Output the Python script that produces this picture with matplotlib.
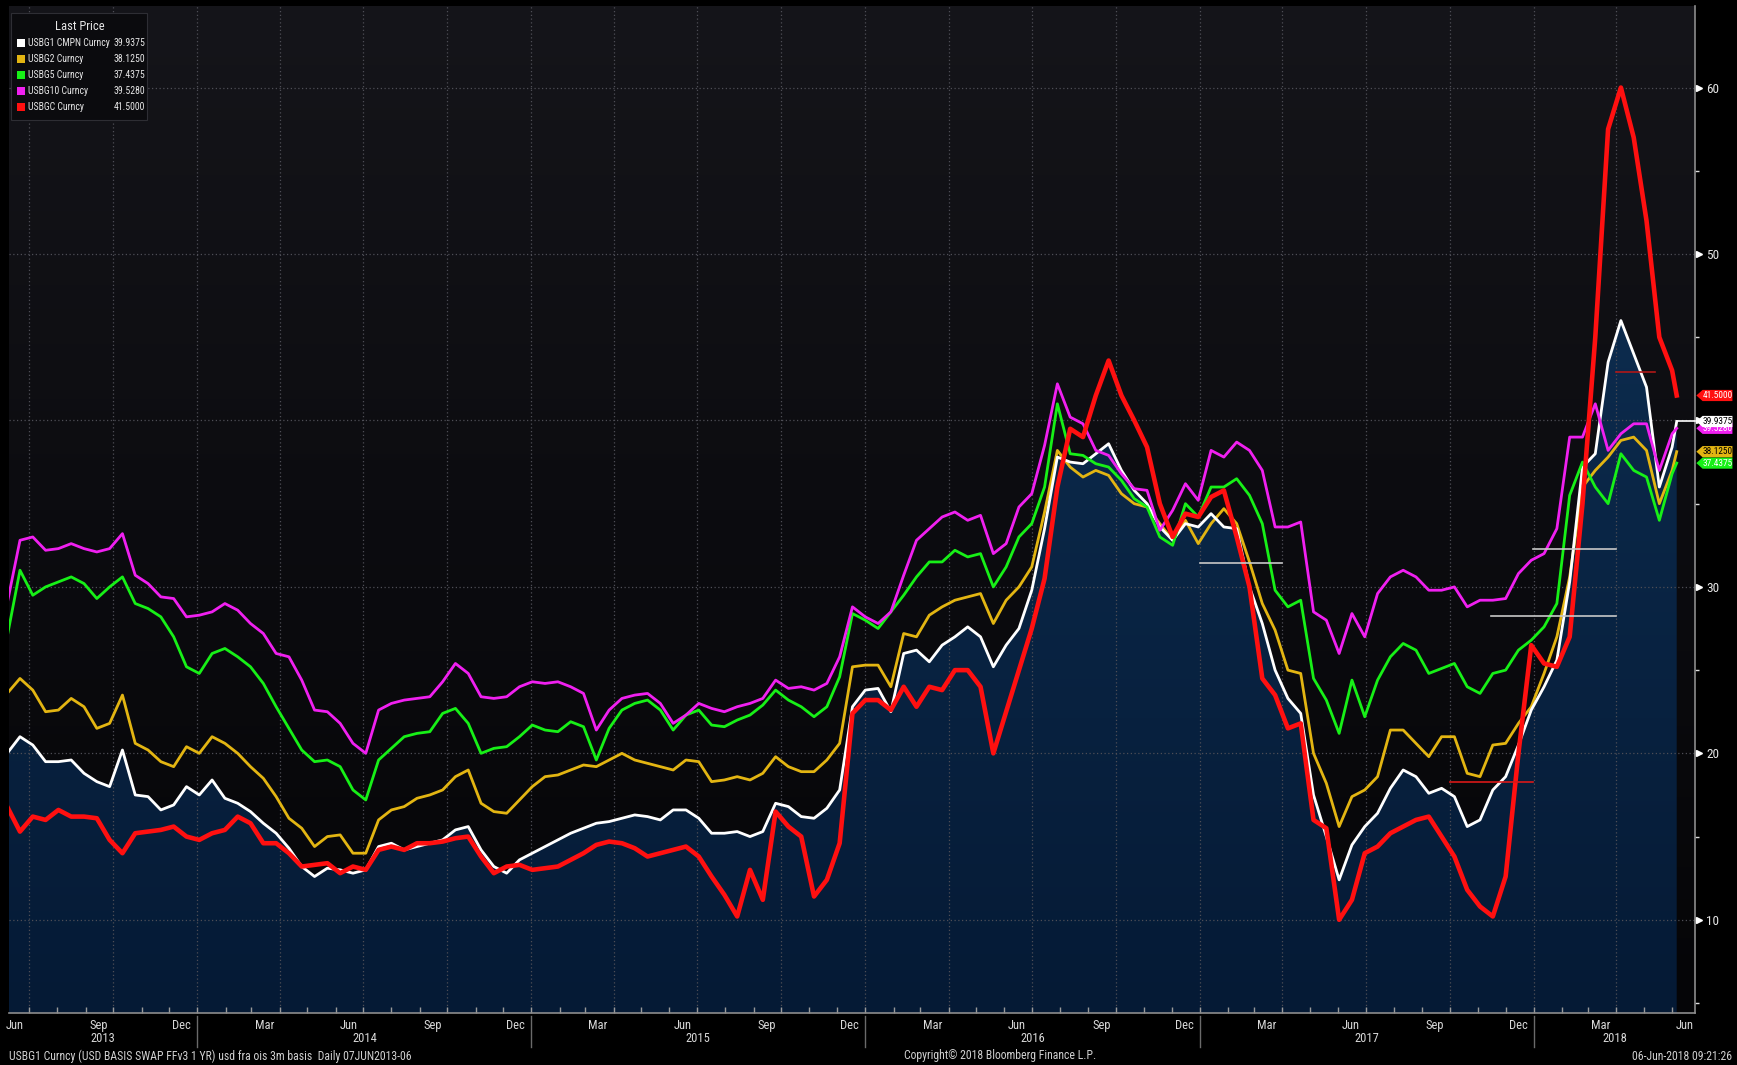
import numpy as np
import pandas as pd
import matplotlib
matplotlib.use("Agg")
import matplotlib.pyplot as plt
import matplotlib.dates as mdates
import matplotlib.transforms as mtransforms
import matplotlib.font_manager as fm
from matplotlib.colors import LinearSegmentedColormap
from matplotlib.patches import Polygon, Rectangle

# ---------- pick a narrow font if one is installed ----------
_entries = fm.fontManager.ttflist
_fams = {e.name for e in _entries}
FONT_FAMILY, FONT_STRETCH = "DejaVu Sans", "normal"
for cand in ["Liberation Sans Narrow", "Arial Narrow", "Roboto Condensed",
             "Noto Sans Condensed", "Open Sans Condensed", "DejaVu Sans Condensed"]:
    if cand in _fams:
        FONT_FAMILY = cand
        break
else:
    for fam in ["Roboto", "Noto Sans", "Open Sans", "DejaVu Sans", "Liberation Sans"]:
        if any(e.name == fam and str(e.stretch) in ("condensed", "semi-condensed", "extra-condensed")
               for e in _entries):
            FONT_FAMILY, FONT_STRETCH = fam, "condensed"
            break
plt.rcParams["font.family"] = [FONT_FAMILY, "DejaVu Sans"]
plt.rcParams["font.stretch"] = FONT_STRETCH

# ---------------- data (biweekly readings) ----------------
dates = list(pd.date_range("2013-06-07", periods=131, freq="14D")) + [pd.Timestamp("2018-06-06")]

usbg1 = [
    20.0, 21.0, 20.5, 19.5, 19.5, 19.6, 18.8, 18.3, 18.0, 20.2,
    17.5, 17.4, 16.6, 16.9, 18.0, 17.5, 18.4, 17.3, 17.0, 16.5,
    15.8, 15.2, 14.3, 13.2, 12.6, 13.1, 13.0, 12.8, 13.0, 14.4,
    14.6, 14.2, 14.4, 14.6, 14.8, 15.4, 15.6, 14.2, 13.2, 12.8,
    13.6, 14.0, 14.4, 14.8, 15.2, 15.5, 15.8, 15.9, 16.1, 16.3,
    16.2, 16.0, 16.6, 16.6, 16.1, 15.2, 15.2, 15.3, 15.0, 15.3,
    17.0, 16.8, 16.2, 16.1, 16.7, 17.8, 22.8, 23.8, 23.9, 22.5,
    26.0, 26.2, 25.5, 26.5, 27.0, 27.6, 27.0, 25.2, 26.5, 27.5,
    29.8, 33.5, 37.8, 37.5, 37.4, 38.0, 38.6, 37.0, 35.8, 35.0,
    33.6, 32.8, 33.8, 33.6, 34.4, 33.6, 33.5, 30.0, 27.8, 25.0,
    23.3, 22.4, 17.5, 15.0, 12.4, 14.5, 15.6, 16.4, 17.9, 19.0,
    18.6, 17.6, 17.9, 17.4, 15.6, 16.0, 17.8, 18.6, 20.5, 22.6,
    24.0, 25.6, 30.3, 37.2, 38.0, 43.5, 46.0, 44.0, 42.0, 36.0,
    38.4, 39.9375]

usbg2 = [
    23.6, 24.5, 23.8, 22.5, 22.6, 23.3, 22.8, 21.5, 21.8, 23.5,
    20.6, 20.2, 19.5, 19.2, 20.4, 20.0, 21.0, 20.6, 20.0, 19.2,
    18.5, 17.4, 16.1, 15.5, 14.4, 15.0, 15.1, 14.0, 14.0, 16.0,
    16.6, 16.8, 17.3, 17.5, 17.8, 18.6, 19.0, 17.0, 16.5, 16.4,
    17.2, 18.0, 18.6, 18.7, 19.0, 19.3, 19.2, 19.6, 20.0, 19.6,
    19.4, 19.2, 19.0, 19.6, 19.5, 18.3, 18.4, 18.6, 18.4, 18.8,
    19.8, 19.2, 18.9, 18.9, 19.6, 20.6, 25.2, 25.3, 25.3, 24.0,
    27.2, 27.0, 28.3, 28.8, 29.2, 29.4, 29.6, 27.8, 29.2, 30.0,
    31.2, 34.5, 38.2, 37.2, 36.6, 37.0, 36.7, 35.6, 35.0, 34.8,
    33.8, 32.8, 34.0, 32.6, 33.8, 34.7, 33.8, 31.5, 29.0, 27.4,
    25.0, 24.8, 20.0, 18.2, 15.6, 17.4, 17.8, 18.6, 21.4, 21.4,
    20.6, 19.8, 21.0, 21.0, 18.8, 18.6, 20.5, 20.6, 21.8, 22.8,
    24.8, 27.0, 30.6, 36.0, 37.0, 37.8, 38.8, 39.0, 38.2, 35.0,
    37.0, 38.125]

usbg5 = [
    27.0, 31.0, 29.5, 30.0, 30.3, 30.6, 30.2, 29.3, 30.0, 30.6,
    29.0, 28.7, 28.2, 27.0, 25.2, 24.8, 26.0, 26.3, 25.8, 25.2,
    24.2, 22.8, 21.5, 20.2, 19.5, 19.6, 19.2, 17.8, 17.2, 19.6,
    20.3, 21.0, 21.2, 21.3, 22.4, 22.7, 21.8, 20.0, 20.3, 20.4,
    21.0, 21.7, 21.4, 21.3, 21.9, 21.6, 19.6, 21.5, 22.6, 23.0,
    23.2, 22.6, 21.4, 22.3, 22.6, 21.7, 21.6, 22.0, 22.3, 22.9,
    23.8, 23.2, 22.8, 22.2, 22.8, 24.6, 28.4, 28.0, 27.5, 28.5,
    29.5, 30.6, 31.5, 31.5, 32.2, 31.8, 32.0, 30.0, 31.2, 33.0,
    33.8, 36.0, 41.0, 38.0, 37.9, 37.4, 37.2, 36.4, 35.3, 34.8,
    33.0, 32.5, 35.0, 34.2, 36.0, 36.0, 36.5, 35.5, 33.8, 29.8,
    28.8, 29.2, 24.5, 23.2, 21.2, 24.4, 22.2, 24.4, 25.8, 26.6,
    26.2, 24.8, 25.1, 25.4, 24.0, 23.6, 24.8, 25.0, 26.2, 26.8,
    27.6, 29.0, 35.5, 37.5, 36.0, 35.0, 38.0, 37.0, 36.6, 34.0,
    36.8, 37.4375]

usbg10 = [
    29.0, 32.8, 33.0, 32.2, 32.3, 32.6, 32.3, 32.1, 32.3, 33.2,
    30.7, 30.2, 29.4, 29.3, 28.2, 28.3, 28.5, 29.0, 28.6, 27.8,
    27.2, 26.0, 25.8, 24.4, 22.6, 22.5, 21.8, 20.6, 20.0, 22.6,
    23.0, 23.2, 23.3, 23.4, 24.3, 25.4, 24.8, 23.4, 23.3, 23.4,
    24.0, 24.3, 24.2, 24.3, 24.0, 23.6, 21.4, 22.6, 23.3, 23.5,
    23.6, 23.0, 21.8, 22.3, 23.0, 22.7, 22.5, 22.8, 23.0, 23.3,
    24.4, 23.9, 24.0, 23.8, 24.2, 25.8, 28.8, 28.2, 27.8, 28.5,
    30.7, 32.8, 33.5, 34.2, 34.5, 34.0, 34.3, 32.0, 32.6, 34.8,
    35.6, 38.5, 42.2, 40.2, 39.8, 38.2, 37.9, 36.8, 35.9, 35.8,
    33.4, 34.6, 36.2, 35.2, 38.2, 37.8, 38.7, 38.2, 37.0, 33.6,
    33.6, 33.9, 28.5, 28.0, 26.0, 28.4, 27.0, 29.6, 30.6, 31.0,
    30.6, 29.8, 29.8, 30.0, 28.8, 29.2, 29.2, 29.3, 30.8, 31.6,
    32.0, 33.5, 39.0, 39.0, 41.0, 38.2, 39.2, 39.8, 39.8, 37.0,
    39.2, 39.528]

usbgc = [
    16.8, 15.3, 16.2, 16.0, 16.6, 16.2, 16.2, 16.1, 14.8, 14.0,
    15.2, 15.3, 15.4, 15.6, 15.0, 14.8, 15.2, 15.4, 16.2, 15.8,
    14.6, 14.6, 14.0, 13.2, 13.3, 13.4, 12.8, 13.2, 13.0, 14.2,
    14.4, 14.2, 14.6, 14.6, 14.7, 14.9, 15.0, 13.8, 12.8, 13.2,
    13.3, 13.0, 13.1, 13.2, 13.6, 14.0, 14.5, 14.7, 14.6, 14.3,
    13.8, 14.0, 14.2, 14.4, 13.8, 12.6, 11.5, 10.2, 13.0, 11.2,
    16.5, 15.6, 15.0, 11.4, 12.4, 14.6, 22.4, 23.2, 23.2, 22.6,
    24.0, 22.8, 24.0, 23.8, 25.0, 25.0, 24.0, 20.0, 22.5, 25.0,
    27.5, 30.5, 36.0, 39.5, 39.0, 41.5, 43.6, 41.5, 40.0, 38.4,
    35.0, 33.0, 34.4, 34.2, 35.4, 35.8, 33.0, 30.0, 24.5, 23.5,
    21.5, 21.8, 16.0, 15.5, 10.0, 11.2, 14.0, 14.4, 15.2, 15.6,
    16.0, 16.2, 15.0, 13.8, 11.8, 10.8, 10.2, 12.6, 20.0, 26.5,
    25.4, 25.2, 27.0, 35.0, 45.0, 57.5, 60.0, 57.0, 52.0, 45.0,
    43.0, 41.5]

series_names = ["USBG1 CMPN Curncy", "USBG2 Curncy", "USBG5 Curncy", "USBG10 Curncy", "USBGC Curncy"]
last_labels = ["39.9375", "38.1250", "37.4375", "39.5280", "41.5000"]
colors = ["#ffffff", "#e3b512", "#17f017", "#f020f0", "#ff1010"]

# reference level lines (start, end, level, colour)
ref_lines = [
    ("2017-01-01", "2017-04-01", 31.45, "#c8c8c8"),
    ("2017-12-31", "2018-04-01", 32.3, "#c8c8c8"),
    ("2017-11-15", "2018-04-01", 28.27, "#c8c8c8"),
    ("2017-10-01", "2017-12-31", 18.3, "#d81818"),
    ("2018-04-01", "2018-05-13", 42.9, "#b01818"),
]

yticks = [10, 20, 30, 40, 50, 60]
yminor = [5, 15, 25, 35, 45, 55]
x_start, x_end = pd.Timestamp("2013-06-09"), pd.Timestamp("2018-06-26")
y_lo, y_hi = 4.4, 64.9

assert all(len(s) == len(dates) for s in [usbg1, usbg2, usbg5, usbg10, usbgc])

# ---------------- figure ----------------
W, H = 1737, 1065
fig = plt.figure(figsize=(W / 100, H / 100), dpi=100, facecolor="black")
def fx(px): return px / W
def fy(py): return 1 - py / H

pos = [fx(9), fy(1013), (1695 - 9) / W, (1013 - 6) / H]
bgax = fig.add_axes(pos, zorder=0)
bg_cmap = LinearSegmentedColormap.from_list("bg", ["#050507", "#0c0c10", "#15151a"])
bgax.imshow(np.linspace(0, 1, 256).reshape(-1, 1), cmap=bg_cmap, origin="lower",
            extent=[0, 1, 0, 1], aspect="auto")
bgax.axis("off")

ax = fig.add_axes(pos, zorder=1)
ax.set_facecolor("none")

# area under USBG1 with vertical gradient
poly = ax.fill_between(dates, usbg1, y_lo, facecolor="none", edgecolor="none")
fill_cmap = LinearSegmentedColormap.from_list("fill", ["#051a35", "#0a2646", "#12345a"])
x0n, x1n = mdates.date2num(x_start), mdates.date2num(x_end)
img = ax.imshow(np.linspace(0, 1, 256).reshape(-1, 1), cmap=fill_cmap, origin="lower",
                extent=[x0n, x1n, y_lo, y_hi], aspect="auto", zorder=1)
img.set_clip_path(poly.get_paths()[0], transform=ax.transData)

# grid
grid_kw = dict(color="#4e4e56", lw=0.9, ls=(0, (1, 2)), zorder=1.5)
for d in pd.date_range("2013-07-01", "2018-04-01", freq="QS"):
    ax.axvline(d, **grid_kw)
for v in yticks:
    ax.axhline(v, **grid_kw)

# series
order = [(usbg2, colors[1], 3, 2.0), (usbg1, colors[0], 4, 2.0), (usbg5, colors[2], 5, 2.0),
         (usbg10, colors[3], 6, 2.0), (usbgc, colors[4], 7, 3.3)]
for vals, c, z, lw in order:
    ax.plot(dates, vals, color=c, lw=lw, zorder=z, solid_joinstyle="round")

for s, e, lvl, c in ref_lines:
    ax.plot([pd.Timestamp(s), pd.Timestamp(e)], [lvl, lvl], color=c, lw=1.2, zorder=8)

# connector for main series last value
ax.plot([dates[-1], x_end], [usbg1[-1], usbg1[-1]], color="white", lw=1.2, zorder=8, clip_on=False)

ax.set_xlim(x_start, x_end)
ax.set_ylim(y_lo, y_hi)

# spines
for sp in ["left", "top"]:
    ax.spines[sp].set_visible(False)
for sp in ["right", "bottom"]:
    ax.spines[sp].set_color("#8c8c8c")
    ax.spines[sp].set_linewidth(1.2)

# y axis on right
ax.yaxis.tick_right()
ax.set_yticks(yticks)
ax.set_yticklabels([str(v) for v in yticks])
ax.set_yticks(yminor, minor=True)
ax.tick_params(axis="y", which="major", length=0, pad=8, labelcolor="#e6e6e6", labelsize=9.5)
ax.tick_params(axis="y", which="minor", length=3, width=1, color="#dddddd", direction="out")
trans_r = mtransforms.blended_transform_factory(ax.transAxes, ax.transData)
ax.plot([1.0025] * len(yticks), yticks, ls="none", marker=">", ms=4.5, color="white",
        transform=trans_r, clip_on=False, zorder=10)

# x axis
ax.xaxis.set_major_locator(mdates.MonthLocator(bymonth=[3, 6, 9, 12], bymonthday=15))
ax.xaxis.set_major_formatter(mdates.DateFormatter("%b"))
ax.xaxis.set_minor_locator(mdates.MonthLocator())
ax.tick_params(axis="x", which="major", length=0, pad=4, labelcolor="#d8d8d8", labelsize=9)
ax.tick_params(axis="x", which="minor", length=4, width=1, direction="in", color="#9a9a9a")

trans_xf = mtransforms.blended_transform_factory(ax.transData, fig.transFigure)
for yr in range(2013, 2019):
    a = max(x_start, pd.Timestamp(f"{yr}-01-01"))
    b = min(x_end, pd.Timestamp(f"{yr + 1}-01-01"))
    mid = a + (b - a) / 2
    ax.text(mid, fy(1039), str(yr), transform=trans_xf, ha="center", va="center",
            color="#d8d8d8", fontsize=9, clip_on=False)
    if yr > 2013:
        ax.plot([a, a], [fy(1016), fy(1047)], transform=trans_xf, color="#6a6a6a",
                lw=1, clip_on=False)

# value tags on right
h = 5.6 * (y_hi - y_lo) / 1007
tag_specs = [(3, usbg10, "white"), (0, usbg1, "black"), (2, usbg5, "white"),
             (1, usbg2, "black"), (4, usbgc, "white")]
tag_texts = []
for zi, (i, vals, tc) in enumerate(tag_specs):
    v = vals[-1]
    pts = [(1.0008, v), (1.0045, v + h), (1.0222, v + h), (1.0222, v - h), (1.0045, v - h)]
    ax.add_patch(Polygon(pts, closed=True, transform=trans_r, facecolor=colors[i],
                         edgecolor="none", clip_on=False, zorder=20 + 2 * zi))
    tag_texts.append(ax.text(1.0133, v, last_labels[i], transform=trans_r, ha="center",
                             va="center", color=tc, fontsize=8.5, clip_on=False,
                             zorder=21 + 2 * zi))

# legend panel
fig.add_artist(Rectangle((fx(11), fy(120)), (147 - 11) / W, (120 - 13) / H,
                         transform=fig.transFigure, facecolor="#0b0b0e",
                         edgecolor="#2e2e34", lw=0.8, zorder=20))
leg_head = fig.text(fx(80), fy(27), "Last Price", ha="center", va="center", color="#e6e6e6",
                    fontsize=9, zorder=21)
rows_y = [43, 59, 75, 91, 107]
leg_names, leg_vals = [], []
for i, ry in enumerate(rows_y):
    fig.add_artist(Rectangle((fx(17), fy(ry + 4)), 8 / W, 8 / H, transform=fig.transFigure,
                             facecolor=colors[i], edgecolor="none", zorder=21))
    leg_names.append(fig.text(fx(28), fy(ry), series_names[i], ha="left", va="center",
                              color="#e6e6e6", fontsize=9, zorder=21))
    leg_vals.append(fig.text(fx(145), fy(ry), last_labels[i], ha="right", va="center",
                             color="#e6e6e6", fontsize=9, zorder=21))

# footer
fig.text(fx(9), fy(1056), "USBG1 Curncy (USD BASIS SWAP FFv3 1 YR) usd fra ois 3m basis  Daily 07JUN2013-06",
         ha="left", va="center", color="#d0d0d0", fontsize=8.5)
fig.text(fx(1000), fy(1056), "Copyright\u00a9 2018 Bloomberg Finance L.P.", ha="center",
         va="center", color="#d0d0d0", fontsize=8.5)
fig.text(fx(1732), fy(1056), "06-Jun-2018 09:21:26", ha="right", va="center",
         color="#d0d0d0", fontsize=8.5)

# ---------- shrink texts that do not fit their boxes ----------
fig.canvas.draw()
r = fig.canvas.get_renderer()
for _ in range(40):
    ok = all(tn.get_window_extent(r).x1 + 2 <= tv.get_window_extent(r).x0
             for tn, tv in zip(leg_names, leg_vals))
    if ok:
        break
    for t in leg_names + leg_vals:
        t.set_fontsize(t.get_fontsize() * 0.98)
for t in tag_texts:
    wpx = t.get_window_extent(r).width
    if wpx > 30:
        t.set_fontsize(t.get_fontsize() * 30 / wpx)

fig.savefig("out.png", dpi=100, facecolor="black")
